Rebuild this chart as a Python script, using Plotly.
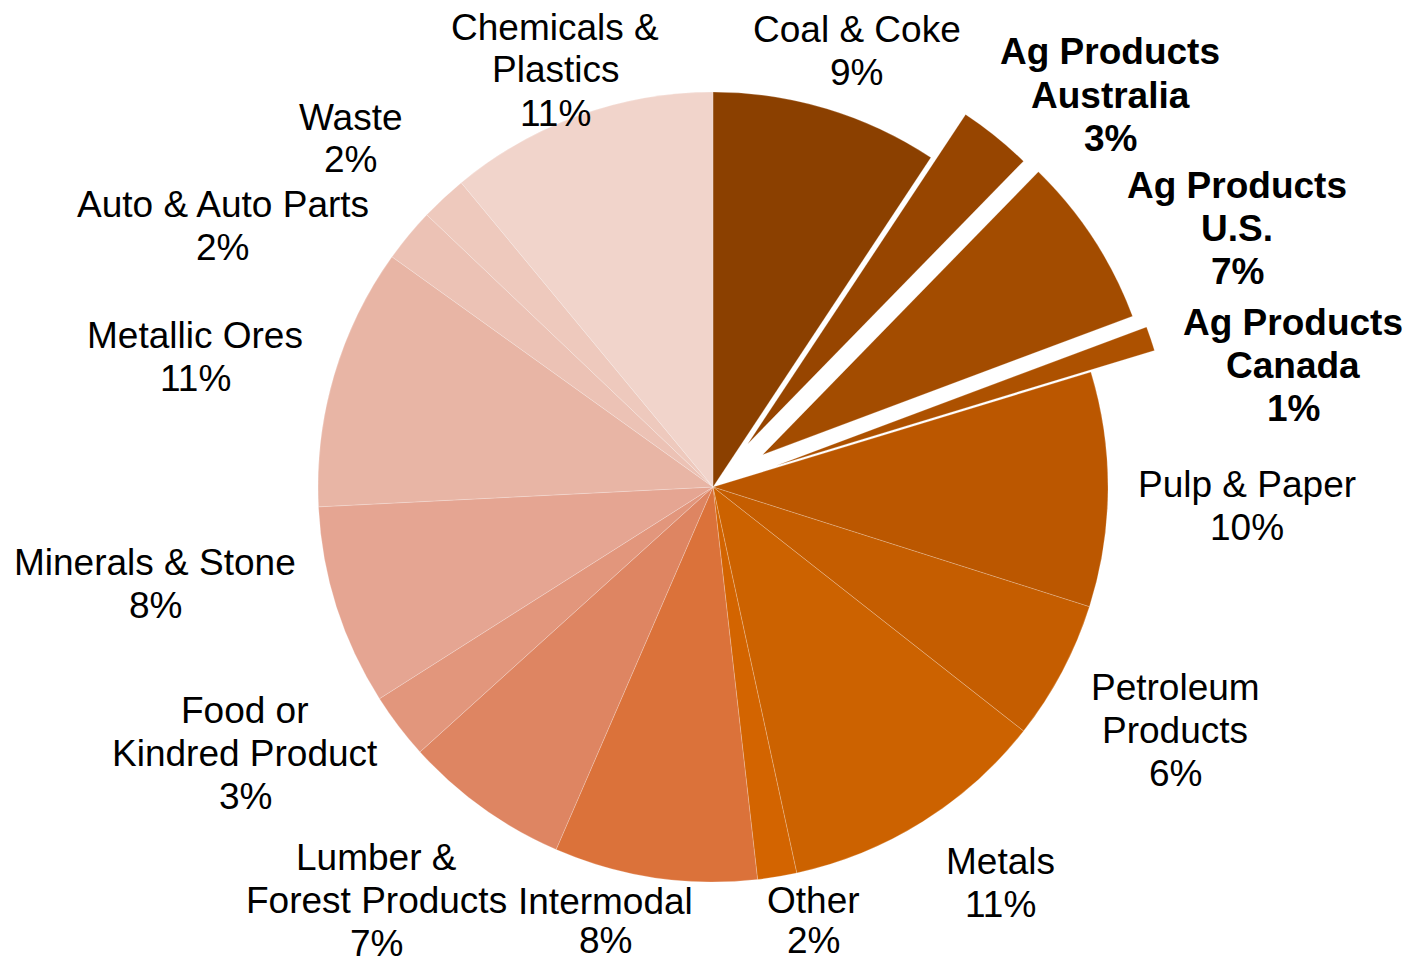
import math
import plotly.graph_objects as go

# ---- data ----
categories = [
    "Coal & Coke", "Ag Products Australia", "Ag Products U.S.", "Ag Products Canada",
    "Pulp & Paper", "Petroleum Products", "Metals", "Other", "Intermodal",
    "Lumber & Forest Products", "Food or Kindred Product", "Minerals & Stone",
    "Metallic Ores", "Auto & Auto Parts", "Waste", "Chemicals & Plastics",
]
shares = [9.3, 3.0, 7.0, 1.0, 9.6, 5.7, 11.0, 1.6, 8.3, 6.8, 2.7, 8.2, 10.7, 2.2, 1.9, 11.0]
pct_labels = ["9%", "3%", "7%", "1%", "10%", "6%", "11%", "2%", "8%", "7%", "3%", "8%",
              "11%", "2%", "2%", "11%"]
label_lines = [
    ["Coal & Coke"], ["Ag Products", "Australia"], ["Ag Products", "U.S."],
    ["Ag Products", "Canada"], ["Pulp & Paper"], ["Petroleum", "Products"], ["Metals"],
    ["Other"], ["Intermodal"], ["Lumber &", "Forest Products"], ["Food or", "Kindred Product"],
    ["Minerals & Stone"], ["Metallic Ores"], ["Auto & Auto Parts"], ["Waste"],
    ["Chemicals &", "Plastics"],
]
highlight = [False, True, True, True] + [False] * 12

# ---- style / layout ----
colors = ["#8B4000", "#974500", "#A34C00", "#AD5100", "#BB5700", "#C55D00", "#CC6200",
          "#D36400", "#DB723A", "#DE8562", "#E2967C", "#E5A592", "#E8B5A5", "#ECC2B5",
          "#EEC9BD", "#F1D4CB"]
pulls = [0, 0.14, 0.15, 0.17] + [0] * 12

W, H = 1407, 963
cx, cy, R = 713, 487, 395
box = 2 * R * (1 + max(pulls))
dom_x = [(cx - box / 2) / W, (cx + box / 2) / W]
yc = 1 - cy / H
half = min(yc, 1 - yc)
dom_y = [yc - half, yc + half]

# label block anchor positions in pixels (top line centre) and line spacing
label_pos = [
    (857, 29), (1110, 52), (1237, 185), (1293, 322), (1247, 484), (1175, 687),
    (1000, 861), (813, 900), (605, 901), (376, 857), (245, 710), (155, 562),
    (195, 335), (223, 204), (350, 117), (555, 27),
]
line_gap = [43] * 16
line_gap[7] = 40
line_gap[8] = 39
FS = 37

fig = go.Figure(go.Pie(
    labels=categories, values=shares, sort=False, direction="clockwise", rotation=0,
    marker=dict(colors=colors, line=dict(color="rgba(255,255,255,0.3)", width=0.7)),
    pull=pulls, textinfo="none", hoverinfo="label+percent",
    domain=dict(x=dom_x, y=dom_y), showlegend=False,
))

annotations = []
for i, lines in enumerate(label_lines):
    x0, y0 = label_pos[i]
    all_lines = lines + [pct_labels[i]]
    for j, t in enumerate(all_lines):
        py = y0 + j * line_gap[i]
        annotations.append(dict(
            x=x0 / W, y=1 - py / H, xref="paper", yref="paper",
            text=f"<b>{t}</b>" if highlight[i] else t, showarrow=False,
            xanchor="center", yanchor="middle",
            font=dict(family="Liberation Sans, Arial, sans-serif", size=FS, color="#000000"),
        ))

fig.update_layout(
    width=W, height=H, margin=dict(l=0, r=0, t=0, b=0),
    paper_bgcolor="white", plot_bgcolor="white", annotations=annotations,
)

fig.write_html("out.html")
